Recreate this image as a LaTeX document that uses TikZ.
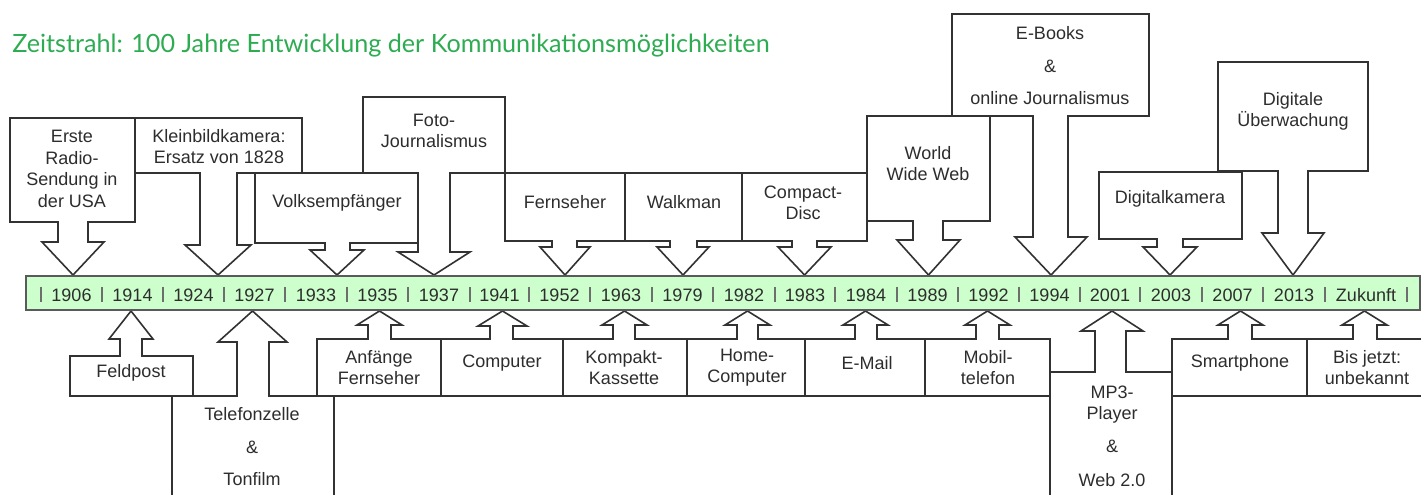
\documentclass[tikz,border=0pt]{standalone}
\usepackage{graphicx}
\usepackage{fontspec}
\setmainfont{Liberation Sans}
\newfontfamily\titlefont{Lato}
\definecolor{titlegreen}{RGB}{46,172,82}
\definecolor{linegray}{RGB}{50,50,50}
\definecolor{txtgray}{RGB}{45,45,45}
\definecolor{barfill}{RGB}{204,255,204}
\definecolor{barline}{RGB}{90,90,90}
\definecolor{sepgray}{RGB}{110,110,110}
\newcommand\downcall[9]{%
  \pgfmathsetmacro\tipx{(#7+#8)/2}%
  \filldraw[callout] (#1,#2) -- (#3,#2) -- (#3,#4) -- (#6,#4) -- (#6,#9) -- (#8,#9)
    -- (\tipx,275) -- (#7,#9) -- (#5,#9) -- (#5,#4) -- (#1,#4) -- cycle;}
\newcommand\upcall[9]{%
  \pgfmathsetmacro\tipx{(#7+#8)/2}%
  \filldraw[callout] (#1,#4) -- (#3,#4) -- (#3,#2) -- (#6,#2) -- (#6,#9) -- (#8,#9)
    -- (\tipx,311) -- (#7,#9) -- (#5,#9) -- (#5,#2) -- (#1,#2) -- cycle;}
\begin{document}
\begin{tikzpicture}[x=0.75pt,y=-0.75pt,
  callout/.style={draw=linegray,fill=white,line width=1.2pt,line join=miter},
  lbl/.style={font=\fontsize{13.5}{15.8}\selectfont,text=txtgray,align=center,inner sep=0pt},
  widelbl/.style={font=\fontsize{13.5}{24.4}\selectfont,text=txtgray,align=center,inner sep=0pt},
  year/.style={font=\fontsize{13.5}{16}\selectfont,text=txtgray,inner sep=0pt},
  sep/.style={draw=sepgray,line width=0.9pt}]
\useasboundingbox (0,0) rectangle (1421,495);
\clip (0,0) rectangle (1421,495);

% title
\node[anchor=base west,inner sep=0pt,text=titlegreen] (title) at (12,53)
  {\resizebox{568pt}{!}{\titlefont Zeitstrahl: 100 Jahre Entwicklung der Kommunikationsm\"oglichkeiten}};

% callouts above the timeline
\downcall{10}{118}{135}{222}{58}{88}{42}{104}{242}
\downcall{135}{118}{302}{173}{200}{237}{185}{251}{245}
\downcall{363}{97}{505}{173}{418}{450}{398}{470}{252}
\downcall{255}{173}{418}{243}{325}{350}{310}{364}{250}
\downcall{505}{173}{625}{241}{552}{577}{540}{590}{247}
\downcall{625}{173}{742}{241}{670}{697}{657}{709}{247}
\downcall{742}{173}{867}{241}{792}{817}{778}{831}{247}
\downcall{952}{14}{1149}{116}{1033}{1068}{1015}{1087}{237}
\downcall{867}{116}{990}{221}{913}{943}{897}{960}{240}
\downcall{1218}{62}{1368}{171}{1278}{1308}{1262}{1324}{233}
\downcall{1099}{172}{1242}{239}{1157}{1183}{1143}{1197}{247}

% callouts below the timeline
\upcall{172}{396}{334}{520}{237}{269}{218}{287}{342}
\upcall{70}{356}{193}{396}{120}{142}{109}{153}{339}
\upcall{317}{339}{441}{396}{368}{391}{357}{402}{325}
\upcall{441}{339}{563}{396}{490}{513}{478}{527}{326}
\upcall{563}{339}{687}{396}{613}{635}{602}{647}{325}
\upcall{687}{339}{805}{396}{737}{758}{725}{770}{325}
\upcall{805}{339}{925}{396}{855}{877}{843}{888}{325}
\upcall{925}{339}{1050}{396}{976}{999}{965}{1010}{325}
\upcall{1050}{372}{1172}{520}{1095}{1126}{1081}{1143}{331}
\upcall{1172}{339}{1307}{396}{1228}{1252}{1218}{1263}{325}
\upcall{1307}{339}{1440}{396}{1353}{1377}{1342}{1387}{325}

% timeline bar
\filldraw[fill=barfill,draw=barline,line width=1.2pt] (26,276) rectangle (1420,310);
\foreach \x in {41,102,163,224,285,347,408,470,529,590,652,713,775,835,897,958,1019,1080,1140,1202,1263,1325,1407}
  \draw[sep] (\x,287) -- (\x,302);
\foreach \l/\r/\t [count=\i] in {41/102/1906,102/163/1914,163/224/1924,224/285/1927,285/347/1933,347/408/1935,408/470/1937,470/529/1941,529/590/1952,590/652/1963,652/713/1979,713/775/1982,775/835/1983,835/897/1984,897/958/1989,958/1019/1992,1019/1080/1994,1080/1140/2001,1140/1202/2003,1202/1263/2007,1263/1325/2013,1325/1407/Zukunft}
  \node[year] (y\i) at ({(\l+\r)/2},295) {\t};

% labels above
\node[lbl,font=\fontsize{13.5}{16.3}\selectfont] (erste) at (72,169) {Erste\\Radio-\\Sendung in\\der USA};
\node[lbl] (klein) at (219,147) {Kleinbildkamera:\\Ersatz von 1828};
\node[lbl] (volk) at (337,203) {Volksempf\"anger};
\node[lbl] (foto) at (434,131) {Foto-\\Journalismus};
\node[lbl] (fern) at (565,202) {Fernseher};
\node[lbl] (walk) at (684,202) {Walkman};
\node[lbl] (cd) at (803,203) {Compact-\\Disc};
\node[lbl] (www) at (928,164) {World\\Wide Web};
\node[widelbl] (ebook) at (1050,66) {E-Books\\\&\\online Journalismus};
\node[lbl] (digi) at (1170,199) {Digitalkamera};
\node[lbl] (ueber) at (1293,111) {Digitale\\\"Uberwachung};

% labels below
\node[lbl] (feld) at (131,373) {Feldpost};
\node[widelbl] (tele) at (252,447) {Telefonzelle\\\&\\Tonfilm};
\node[lbl] (anf) at (379,368) {Anf\"ange\\Fernseher};
\node[lbl] (comp) at (502,363) {Computer};
\node[lbl] (kass) at (624,368) {Kompakt-\\Kassette};
\node[lbl] (home) at (747,368) {Home-\\Computer};
\node[lbl] (mail) at (867,363) {E-Mail};
\node[lbl] (mobil) at (988,368) {Mobil-\\telefon};
\node[lbl,anchor=north] (mp3) at (1112,386) {MP3-\\Player\\[9pt]\&\\[9pt]Web 2.0};
\node[lbl] (smart) at (1240,363) {Smartphone};
\node[lbl] (bis) at (1367,368) {Bis jetzt:\\unbekannt};
\end{tikzpicture}
\end{document}
